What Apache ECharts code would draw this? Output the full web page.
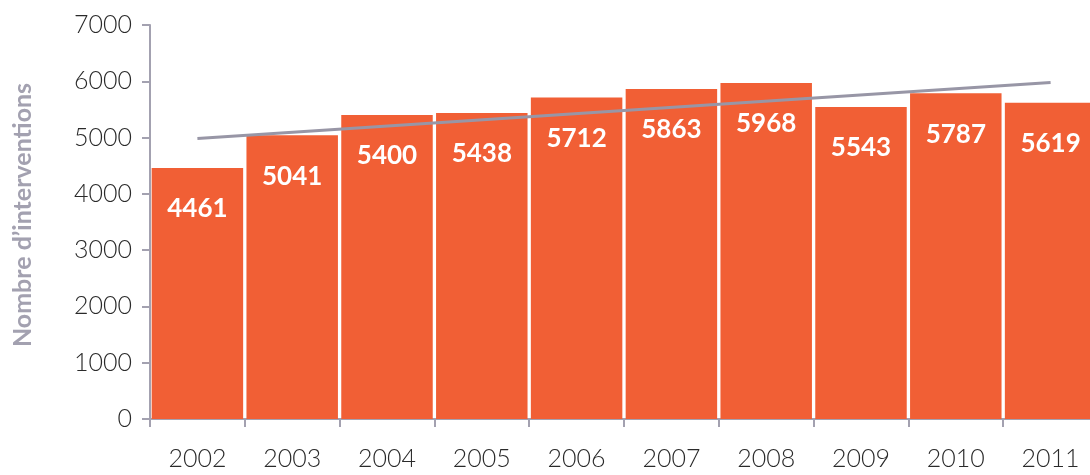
<!DOCTYPE html>
<html><head><meta charset="utf-8">
<script src="https://cdn.jsdelivr.net/npm/echarts@6/dist/echarts.min.js"></script>
<style>html,body{margin:0;padding:0;background:#fff}#c{width:1090px;height:475px}</style>
</head><body><div id="c"></div>
<script>
const years = ['2002','2003','2004','2005','2006','2007','2008','2009','2010','2011'];
const interventions = [4461,5041,5400,5438,5712,5863,5968,5543,5787,5619];
const trend = [4985,null,null,null,null,null,null,null,null,5980];
const yTicks = [0,1000,2000,3000,4000,5000,6000,7000];

const chart = echarts.init(document.getElementById('c'));
const axisColor = '#A3A1B0';
const font = 'Lato, "Open Sans", sans-serif';
chart.setOption({
  animation:false,
  grid:{left:150,top:25,bottom:56,right:-8,containLabel:false,outerBoundsMode:'none'},
  xAxis:{type:'category',data:years,
    axisLine:{lineStyle:{color:axisColor,width:2}},
    axisTick:{show:true,length:8,lineStyle:{color:axisColor,width:2}},
    axisLabel:{color:'#2a2a2a',fontSize:25,fontFamily:font,fontWeight:300,margin:27}},
  yAxis:{type:'value',min:yTicks[0],max:yTicks[yTicks.length-1],interval:1000,
    name:"Nombre d’interventions",nameLocation:'middle',nameGap:115,nameRotate:90,
    nameTextStyle:{color:'#A3A1B0',fontSize:25,fontWeight:'bold',fontFamily:font,padding:[0,0,0,14]},
    axisLine:{show:true,lineStyle:{color:axisColor,width:2}},
    axisTick:{show:true,length:8,lineStyle:{color:axisColor,width:2}},
    splitLine:{show:false},
    axisLabel:{color:'#2a2a2a',fontSize:25,fontFamily:font,fontWeight:300,margin:18,formatter:v=>String(v)}},
  series:[
    {type:'bar',data:interventions,barWidth:'96.5%',itemStyle:{color:'#F15F35'},
      label:{show:true,position:'insideTop',distance:28,color:'#fff',fontSize:26,fontWeight:'bold',fontFamily:font}},
    {type:'line',data:trend,connectNulls:true,symbol:'none',z:5,
      lineStyle:{color:'#9896A6',width:3}}
  ]
});
</script></body></html>
